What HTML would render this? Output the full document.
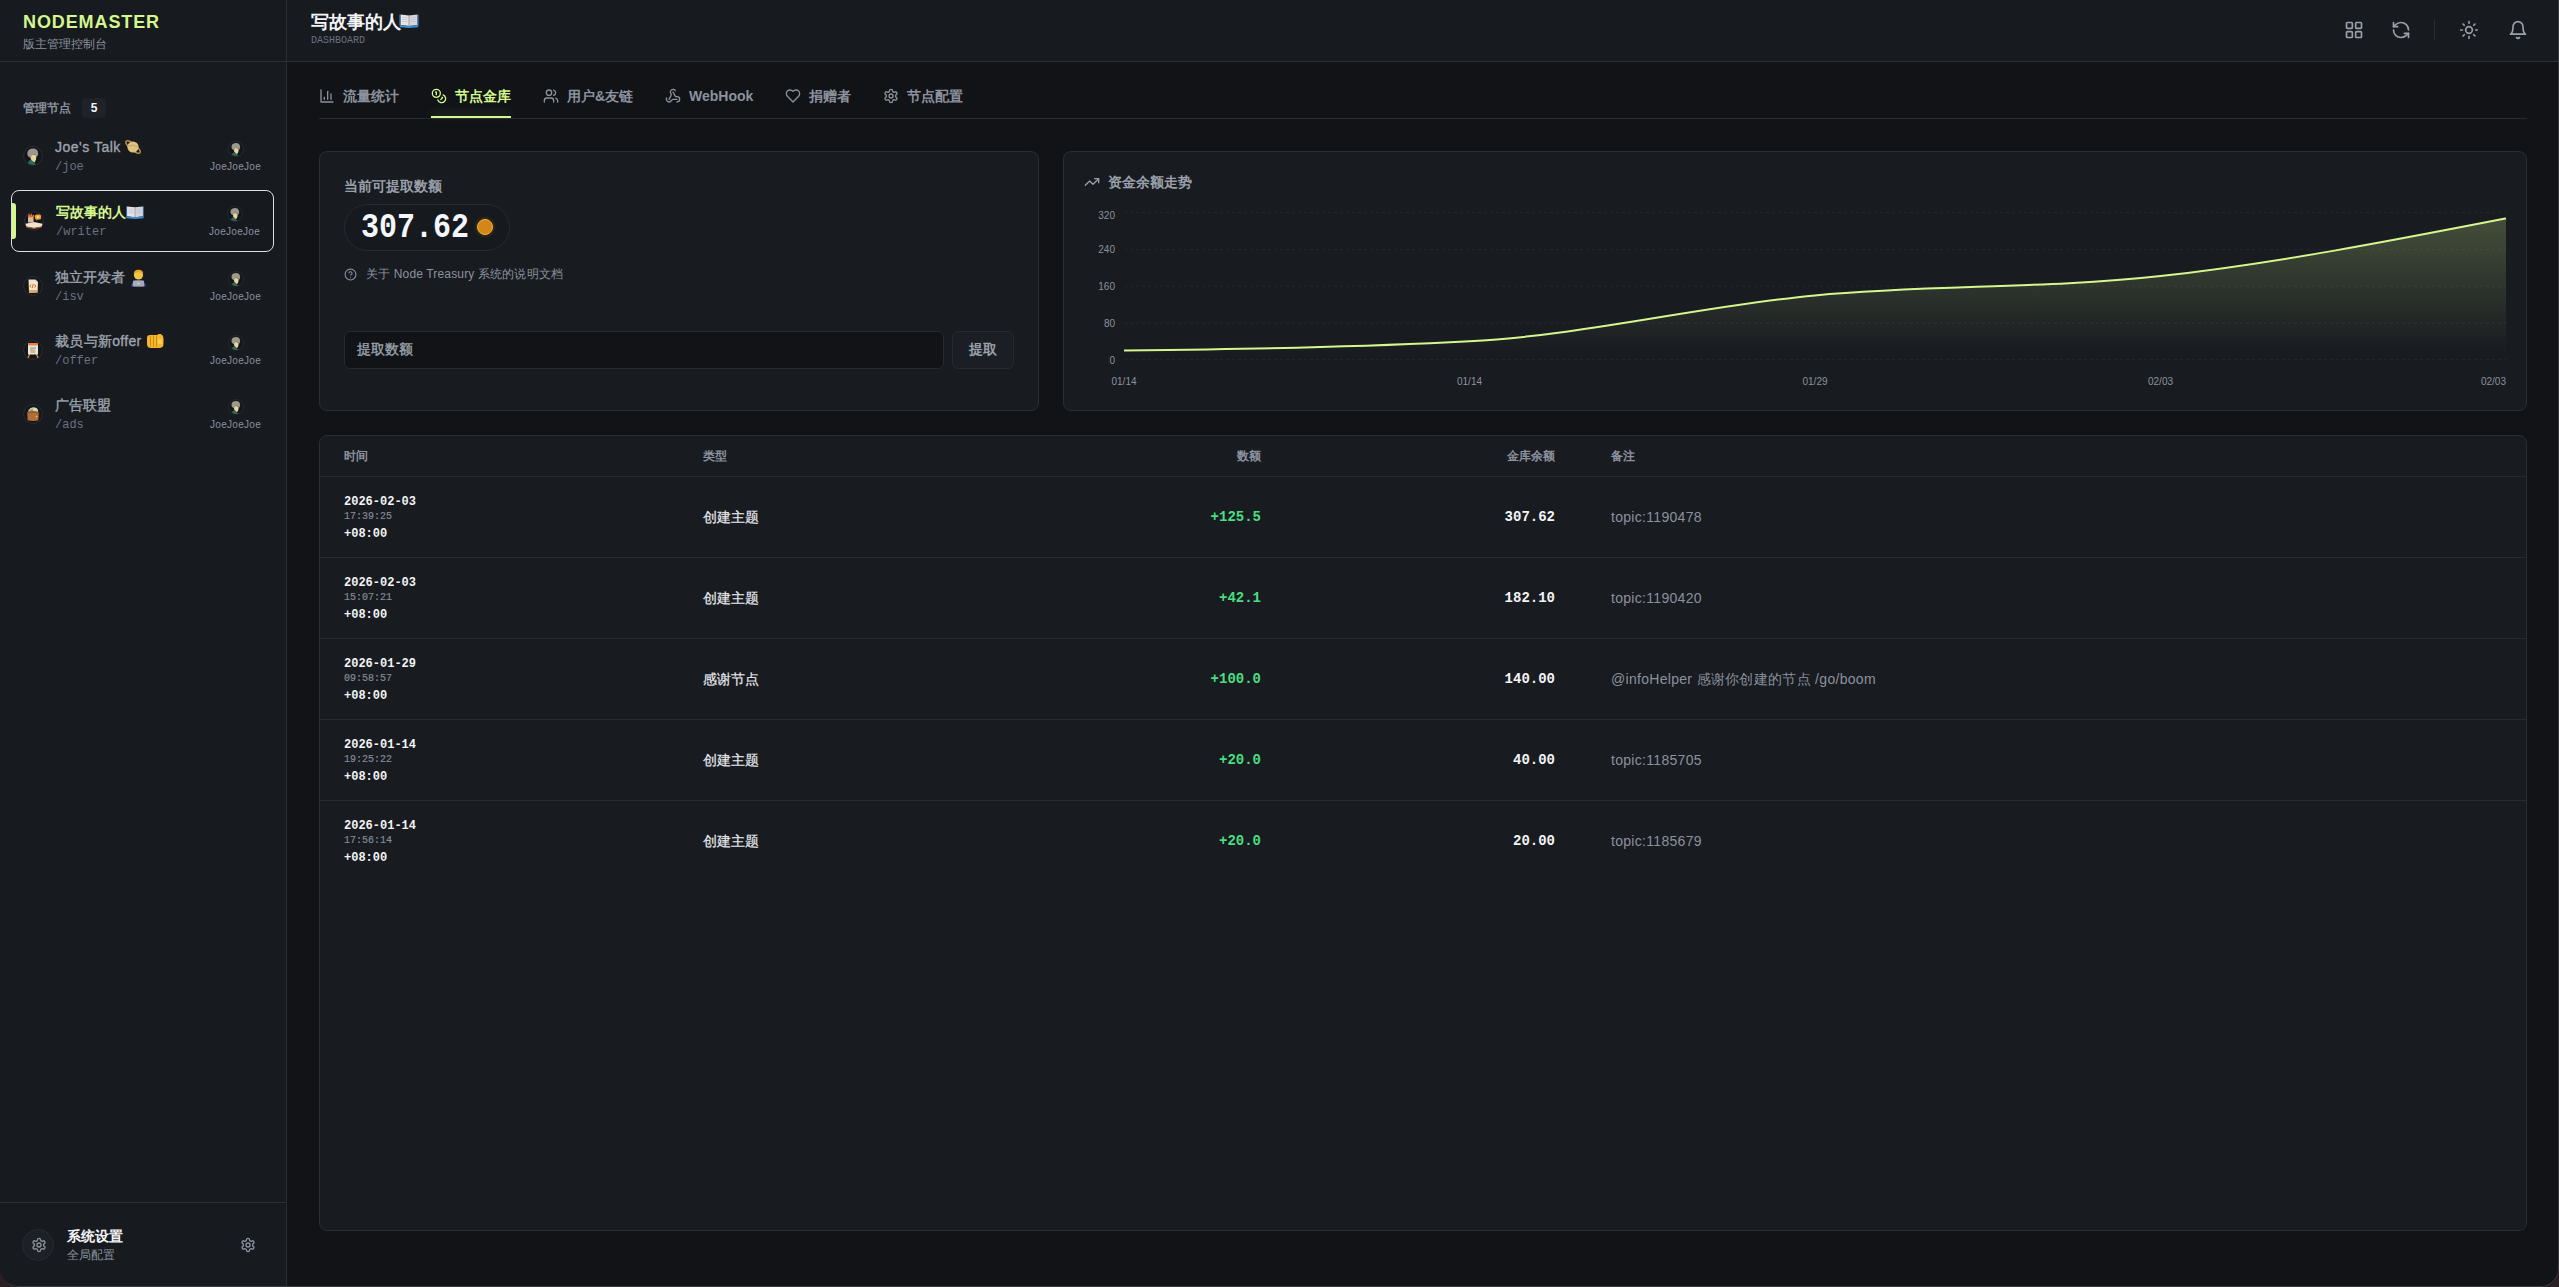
<!DOCTYPE html>
<html><head><meta charset="utf-8">
<style>
*{margin:0;padding:0;box-sizing:border-box}
html,body{width:2559px;height:1287px;overflow:hidden;background:#2b2024}
body{font-family:"Liberation Sans",sans-serif;color:#e5e7eb;position:relative}
.mono{font-family:"Liberation Mono",monospace}
.abs{position:absolute;white-space:nowrap}
#win{position:absolute;left:0;top:0;width:2559px;height:1287px;background:#111317;border-radius:0 0 18px 18px;overflow:hidden}
#frame{position:absolute;left:0;top:-2px;width:2559px;height:1289px;border:1px solid #3a3c40;border-top:none;border-left:none;border-radius:0 0 18px 18px;pointer-events:none}
#side{position:absolute;left:0;top:0;width:287px;height:1287px;background:#171a1f;border-right:1px solid #2a2e35}
#head{position:absolute;left:287px;top:0;right:0;height:62px;background:#171a1f;border-bottom:1px solid #2a2e35}
#sidehead{position:absolute;left:0;top:0;width:286px;height:62px;border-bottom:1px solid #2a2e35}
svg.ic{position:absolute;fill:none;stroke:currentColor;stroke-linecap:round;stroke-linejoin:round}
.card{position:absolute;background:#181b20;border:1px solid #2a2e35;border-radius:8px}
.av{position:absolute;border-radius:50%;background:#2a2d33;border:1px solid #2a2e35;overflow:hidden}
</style></head><body>
<div id="win">
 <div id="side">
  <div id="sidehead">
   <div class="abs" style="left:23px;top:12px;font-size:18px;font-weight:bold;color:#d4f78e;letter-spacing:0.9px">NODEMASTER</div>
   <div class="abs" style="left:23px;top:36px;font-size:12px;color:#8b929d">版主管理控制台</div>
  </div>
  <div class="abs" style="left:23px;top:100px;font-size:12px;font-weight:bold;color:#8b929d">管理节点</div>
  <div class="abs" style="left:82px;top:98px;width:24px;height:20px;border-radius:4px;background:#1f2229;font-size:12px;font-weight:bold;color:#f3f4f6;text-align:center;line-height:20px">5</div>

  <!-- node 1 -->
  <svg style="position:absolute;left:23px;top:146px" width="20" height="20" viewBox="0 0 20 20"><circle cx="10" cy="10" r="9.4" fill="#14161a" stroke="#2b2e34" stroke-width="1"/><path d="M4.6 17.2 Q6 13.5 9.5 13.8 L11 16.5 L13 18.6 Q9 19.6 4.6 17.2Z" fill="#2f6658"/><path d="M7.6 9 Q10.5 8 13.4 9.6 L13 13.5 Q12 16 11.3 16.6 Q9 14.6 7.6 13Z" fill="#e4d69c"/><path d="M4.3 8.5 Q4 3 9.6 2.6 Q15.2 2.6 15.2 8 Q14.6 10 13.8 11 Q13.2 8.5 11 8.4 Q8.5 8.8 7.5 11.5 Q5 11 4.3 8.5Z" fill="#9d988f"/></svg>
  <div class="abs" style="left:55px;top:139px;font-size:14px;color:#9ea4ae;-webkit-text-stroke:0.35px #9ea4ae;letter-spacing:0.5px">Joe's Talk</div>
  <svg style="position:absolute;left:124px;top:138px" width="18" height="18" viewBox="0 0 18 18"><ellipse cx="9" cy="9" rx="9" ry="3" transform="rotate(40 9 9)" fill="none" stroke="#b98a4a" stroke-width="1.4"/><circle cx="9" cy="9" r="5.6" fill="#dcc27e"/><path d="M4 8 Q9 6 14 9" stroke="#c9a866" stroke-width="1" fill="none"/></svg>
  <div class="abs mono" style="left:55px;top:160px;font-size:12px;color:#6b7280">/joe</div>
  <svg style="position:absolute;left:228px;top:141px" width="16" height="16" viewBox="0 0 20 20"><circle cx="10" cy="10" r="9.4" fill="#14161a" stroke="#2b2e34" stroke-width="1"/><path d="M4.6 17.2 Q6 13.5 9.5 13.8 L11 16.5 L13 18.6 Q9 19.6 4.6 17.2Z" fill="#2f6658"/><path d="M7.6 9 Q10.5 8 13.4 9.6 L13 13.5 Q12 16 11.3 16.6 Q9 14.6 7.6 13Z" fill="#e4d69c"/><path d="M4.3 8.5 Q4 3 9.6 2.6 Q15.2 2.6 15.2 8 Q14.6 10 13.8 11 Q13.2 8.5 11 8.4 Q8.5 8.8 7.5 11.5 Q5 11 4.3 8.5Z" fill="#9d988f"/></svg>
  <div class="abs" style="left:210px;top:161px;font-size:10px;color:#8b929d;letter-spacing:0.3px">JoeJoeJoe</div>

  <!-- node 2 selected -->
  <div style="position:absolute;left:11px;top:190px;width:263px;height:62px;border:1.5px solid #dcdee2;border-radius:8px;background:#16191e"></div>
  <div style="position:absolute;left:12px;top:203px;width:4px;height:36px;background:#d4f78e;border-radius:0 3px 3px 0"></div>
  <svg style="position:absolute;left:24px;top:211px" width="20" height="20" viewBox="0 0 20 20"><circle cx="10" cy="10" r="9.4" fill="#14161a" stroke="#2b2e34" stroke-width="1"/><path d="M1.5 12.8 L10 11 L18.5 12.8 L17.8 15.6 L10 17 L2.2 15.6Z" fill="#efe4cc"/><path d="M2.2 15.6 L10 17 L17.8 15.6 L17.6 16.6 L10 18 L2.4 16.6Z" fill="#c0502e"/><path d="M4 11.5 L4 7 Q5 4 6 6.5 Q7 3.5 8 6.5 Q9 4 9.6 7 L9.6 11.5Z" fill="#d9b8a0"/><path d="M4.3 6.5 L5 3.8 L6 6 M6.7 5.6 L7.3 3 L8 5.6 M8.8 6 L9.6 4 L9.8 6.4" stroke="#e8702a" stroke-width="1.2" fill="none"/><rect x="11" y="3.5" width="6" height="5" rx="1.5" fill="#f0a834"/><path d="M12.5 8.2 L12 10 L14 8.3Z" fill="#f0a834"/><path d="M13.3 4.8 L15.3 6 L13.3 7.2Z" fill="#fff2d0"/></svg>
  <div class="abs" style="left:56px;top:204px;font-size:14px;font-weight:bold;color:#d4f78e">写故事的人</div>
  <svg style="position:absolute;left:126px;top:205px" width="18" height="14" viewBox="0 0 19 15"><path d="M1 1.5 L9.5 2.5 V13 L1 12Z" fill="#e4e4ea"/><path d="M18 1.5 L9.5 2.5 V13 L18 12Z" fill="#d6d6de"/><path d="M0.3 12 L9.5 13 L18.7 12 V14.3 L9.5 15 L0.3 14.3Z" fill="#3b8ed0"/><path d="M0.3 1.5 V12.5 M18.7 1.5 V12.5" stroke="#3b8ed0" stroke-width="0.8"/><path d="M9.5 2.5 V13" stroke="#8d8d98" stroke-width="0.8"/><path d="M2.5 4.5 H8 M2.5 6.5 H8 M2.5 8.5 H8 M11 4.5 H16.5 M11 6.5 H16.5 M11 8.5 H16.5" stroke="#b8b8c4" stroke-width="0.6"/></svg>
  <div class="abs mono" style="left:56px;top:225px;font-size:12px;color:#6b7280">/writer</div>
  <svg style="position:absolute;left:227px;top:206px" width="16" height="16" viewBox="0 0 20 20"><circle cx="10" cy="10" r="9.4" fill="#14161a" stroke="#2b2e34" stroke-width="1"/><path d="M4.6 17.2 Q6 13.5 9.5 13.8 L11 16.5 L13 18.6 Q9 19.6 4.6 17.2Z" fill="#2f6658"/><path d="M7.6 9 Q10.5 8 13.4 9.6 L13 13.5 Q12 16 11.3 16.6 Q9 14.6 7.6 13Z" fill="#e4d69c"/><path d="M4.3 8.5 Q4 3 9.6 2.6 Q15.2 2.6 15.2 8 Q14.6 10 13.8 11 Q13.2 8.5 11 8.4 Q8.5 8.8 7.5 11.5 Q5 11 4.3 8.5Z" fill="#9d988f"/></svg>
  <div class="abs" style="left:209px;top:226px;font-size:10px;color:#8b929d;letter-spacing:0.3px">JoeJoeJoe</div>

  <!-- node 3 -->
  <svg style="position:absolute;left:23px;top:276px" width="20" height="20" viewBox="0 0 20 20"><circle cx="10" cy="10" r="9.4" fill="#14161a" stroke="#2b2e34" stroke-width="1"/><path d="M5.5 3.5 L12.5 3.5 L15 6 L14.5 16.5 L6 16.8Z" fill="#efe3cb"/><path d="M8 8.5 L6.8 10 L8 11.5 M11.5 8.5 L12.7 10 L11.5 11.5 M10.3 8 L9.2 12" stroke="#e0662a" stroke-width="1" fill="none"/><path d="M6 14 L14.5 14 L14.5 16.5 L6 16.8Z" fill="#e9a46a"/></svg>
  <div class="abs" style="left:55px;top:269px;font-size:14px;color:#9ea4ae;-webkit-text-stroke:0.35px #9ea4ae">独立开发者</div>
  <svg style="position:absolute;left:130px;top:269px" width="17" height="18" viewBox="0 0 17 18"><circle cx="8.5" cy="6" r="4.6" fill="#f3c443"/><path d="M3.8 5 Q4 0.8 8.5 0.8 Q13 0.8 13.2 5 Q11 3 8.5 3.2 Q6 3 3.8 5Z" fill="#e8a82a"/><path d="M1.5 17.5 Q1.5 11 8.5 11 Q15.5 11 15.5 17.5Z" fill="#3d5fc0"/><rect x="3" y="11.5" width="11" height="6" rx="0.8" fill="#a6abb5"/><circle cx="8.5" cy="14.5" r="0.8" fill="#e8eaee"/></svg>
  <div class="abs mono" style="left:55px;top:290px;font-size:12px;color:#6b7280">/isv</div>
  <svg style="position:absolute;left:228px;top:271px" width="16" height="16" viewBox="0 0 20 20"><circle cx="10" cy="10" r="9.4" fill="#14161a" stroke="#2b2e34" stroke-width="1"/><path d="M4.6 17.2 Q6 13.5 9.5 13.8 L11 16.5 L13 18.6 Q9 19.6 4.6 17.2Z" fill="#2f6658"/><path d="M7.6 9 Q10.5 8 13.4 9.6 L13 13.5 Q12 16 11.3 16.6 Q9 14.6 7.6 13Z" fill="#e4d69c"/><path d="M4.3 8.5 Q4 3 9.6 2.6 Q15.2 2.6 15.2 8 Q14.6 10 13.8 11 Q13.2 8.5 11 8.4 Q8.5 8.8 7.5 11.5 Q5 11 4.3 8.5Z" fill="#9d988f"/></svg>
  <div class="abs" style="left:210px;top:291px;font-size:10px;color:#8b929d;letter-spacing:0.3px">JoeJoeJoe</div>

  <!-- node 4 -->
  <svg style="position:absolute;left:23px;top:340px" width="20" height="20" viewBox="0 0 20 20"><circle cx="10" cy="10" r="9.4" fill="#14161a" stroke="#2b2e34" stroke-width="1"/><path d="M6.5 14 L5 18 M13.5 14 L15 18" stroke="#d88a4a" stroke-width="1.3"/><rect x="5" y="3.6" width="10" height="11" rx="0.8" fill="#efe6d2"/><rect x="5" y="3" width="10" height="2.4" rx="0.8" fill="#e2844a"/><path d="M7 8 H13 M7 10 H12 M7.5 12 H12.5" stroke="#8a8478" stroke-width="0.9"/></svg>
  <div class="abs" style="left:55px;top:333px;font-size:14px;color:#9ea4ae;-webkit-text-stroke:0.35px #9ea4ae;letter-spacing:0.3px">裁员与新offer</div>
  <svg style="position:absolute;left:146px;top:333px" width="18" height="16" viewBox="0 0 18 16"><path d="M1 5 Q1 2 4 2 L11 2 Q12.5 0.5 14.5 1 Q17.5 2 17.5 6 L17.5 11 Q17.5 15 13 15 L5 15 Q1 15 1 11Z" fill="#f4b72e"/><path d="M4.5 3 V14 M7.5 2.5 V14 M10.5 2.5 V14" stroke="#d08c12" stroke-width="1"/><rect x="12" y="6" width="4" height="5" rx="1.5" fill="#f9cf55"/></svg>
  <div class="abs mono" style="left:55px;top:354px;font-size:12px;color:#6b7280">/offer</div>
  <svg style="position:absolute;left:228px;top:335px" width="16" height="16" viewBox="0 0 20 20"><circle cx="10" cy="10" r="9.4" fill="#14161a" stroke="#2b2e34" stroke-width="1"/><path d="M4.6 17.2 Q6 13.5 9.5 13.8 L11 16.5 L13 18.6 Q9 19.6 4.6 17.2Z" fill="#2f6658"/><path d="M7.6 9 Q10.5 8 13.4 9.6 L13 13.5 Q12 16 11.3 16.6 Q9 14.6 7.6 13Z" fill="#e4d69c"/><path d="M4.3 8.5 Q4 3 9.6 2.6 Q15.2 2.6 15.2 8 Q14.6 10 13.8 11 Q13.2 8.5 11 8.4 Q8.5 8.8 7.5 11.5 Q5 11 4.3 8.5Z" fill="#9d988f"/></svg>
  <div class="abs" style="left:210px;top:355px;font-size:10px;color:#8b929d;letter-spacing:0.3px">JoeJoeJoe</div>

  <!-- node 5 -->
  <svg style="position:absolute;left:23px;top:404px" width="20" height="20" viewBox="0 0 20 20"><circle cx="10" cy="10" r="9.4" fill="#14161a" stroke="#2b2e34" stroke-width="1"/><path d="M5.5 6 Q8 2.5 12 3.5 Q15.5 4 15 8 L15 10 L5.5 10Z" fill="#dcd6b8"/><path d="M6 6.5 L9.5 4.5 L11 9 Z" fill="#7aa874"/><path d="M4.2 8 Q10 6.5 15.8 8 L15.4 16.2 Q10 17.6 4.6 16.2Z" fill="#b26e38"/><path d="M4.2 8 Q10 6.5 15.8 8 L15.6 9.5 Q10 8.2 4.4 9.5Z" fill="#8e5328"/><circle cx="13.6" cy="12.6" r="0.9" fill="#e8c070"/></svg>
  <div class="abs" style="left:55px;top:397px;font-size:14px;color:#9ea4ae;-webkit-text-stroke:0.35px #9ea4ae">广告联盟</div>
  <div class="abs mono" style="left:55px;top:418px;font-size:12px;color:#6b7280">/ads</div>
  <svg style="position:absolute;left:228px;top:399px" width="16" height="16" viewBox="0 0 20 20"><circle cx="10" cy="10" r="9.4" fill="#14161a" stroke="#2b2e34" stroke-width="1"/><path d="M4.6 17.2 Q6 13.5 9.5 13.8 L11 16.5 L13 18.6 Q9 19.6 4.6 17.2Z" fill="#2f6658"/><path d="M7.6 9 Q10.5 8 13.4 9.6 L13 13.5 Q12 16 11.3 16.6 Q9 14.6 7.6 13Z" fill="#e4d69c"/><path d="M4.3 8.5 Q4 3 9.6 2.6 Q15.2 2.6 15.2 8 Q14.6 10 13.8 11 Q13.2 8.5 11 8.4 Q8.5 8.8 7.5 11.5 Q5 11 4.3 8.5Z" fill="#9d988f"/></svg>
  <div class="abs" style="left:210px;top:419px;font-size:10px;color:#8b929d;letter-spacing:0.3px">JoeJoeJoe</div>

  <!-- footer -->
  <div style="position:absolute;left:0;top:1202px;width:286px;height:1px;background:#2a2e35"></div>
  <div style="position:absolute;left:22px;top:1229px;width:32px;height:32px;border-radius:50%;background:#1d2027;border:1px solid #262a31"></div>
  <svg class="ic" style="left:31px;top:1237px;color:#8b929d" width="16" height="16" viewBox="0 0 24 24" stroke-width="2"><path d="M12.22 2h-.44a2 2 0 0 0-2 2v.18a2 2 0 0 1-1 1.73l-.43.25a2 2 0 0 1-2 0l-.15-.08a2 2 0 0 0-2.73.73l-.22.38a2 2 0 0 0 .73 2.73l.15.1a2 2 0 0 1 1 1.72v.51a2 2 0 0 1-1 1.74l-.15.09a2 2 0 0 0-.73 2.73l.22.38a2 2 0 0 0 2.73.73l.15-.08a2 2 0 0 1 2 0l.43.25a2 2 0 0 1 1 1.73V20a2 2 0 0 0 2 2h.44a2 2 0 0 0 2-2v-.18a2 2 0 0 1 1-1.73l.43-.25a2 2 0 0 1 2 0l.15.08a2 2 0 0 0 2.73-.73l.22-.39a2 2 0 0 0-.73-2.73l-.15-.08a2 2 0 0 1-1-1.74v-.5a2 2 0 0 1 1-1.74l.15-.09a2 2 0 0 0 .73-2.73l-.22-.38a2 2 0 0 0-2.73-.73l-.15.08a2 2 0 0 1-2 0l-.43-.25a2 2 0 0 1-1-1.73V4a2 2 0 0 0-2-2z"/><circle cx="12" cy="12" r="3"/></svg>
  <div class="abs" style="left:67px;top:1228px;font-size:14px;font-weight:bold;color:#f3f4f6">系统设置</div>
  <div class="abs" style="left:67px;top:1247px;font-size:12px;color:#8b929d">全局配置</div>
  <svg class="ic" style="left:240px;top:1237px;color:#8b929d" width="16" height="16" viewBox="0 0 24 24" stroke-width="2"><path d="M12.22 2h-.44a2 2 0 0 0-2 2v.18a2 2 0 0 1-1 1.73l-.43.25a2 2 0 0 1-2 0l-.15-.08a2 2 0 0 0-2.730.73l-.22.38a2 2 0 0 0 .73 2.73l.15.1a2 2 0 0 1 1 1.72v.51a2 2 0 0 1-1 1.74l-.15.09a2 2 0 0 0-.73 2.730l.22.38a2 2 0 0 0 2.73.73l.15-.08a2 2 0 0 1 2 0l.43.25a2 2 0 0 1 1 1.73V20a2 2 0 0 0 2 2h.44a2 2 0 0 0 2-2v-.18a2 2 0 0 1 1-1.73l.43-.25a2 2 0 0 1 2 0l.15.08a2 2 0 0 0 2.73-.73l.22-.39a2 2 0 0 0-.73-2.73l-.15-.08a2 2 0 0 1-1-1.74v-.5a2 2 0 0 1 1-1.74l.15-.09a2 2 0 0 0 .73-2.73l-.22-.38a2 2 0 0 0-2.73-.73l-.15.08a2 2 0 0 1-2 0l-.43-.25a2 2 0 0 1-1-1.73V4a2 2 0 0 0-2-2z"/><circle cx="12" cy="12" r="3"/></svg>
 </div>
 <div id="head">
  <div class="abs" style="left:24px;top:10px;font-size:17.6px;font-weight:bold;color:#f3f4f6">写故事的人</div>
  <svg style="position:absolute;left:112px;top:13px" width="20" height="15" viewBox="0 0 19 15"><path d="M1 1.5 L9.5 2.5 V13 L1 12Z" fill="#e4e4ea"/><path d="M18 1.5 L9.5 2.5 V13 L18 12Z" fill="#d6d6de"/><path d="M0.3 12 L9.5 13 L18.7 12 V14.3 L9.5 15 L0.3 14.3Z" fill="#3b8ed0"/><path d="M0.3 1.5 V12.5 M18.7 1.5 V12.5" stroke="#3b8ed0" stroke-width="0.8"/><path d="M9.5 2.5 V13" stroke="#8d8d98" stroke-width="0.8"/><path d="M2.5 4.5 H8 M2.5 6.5 H8 M2.5 8.5 H8 M11 4.5 H16.5 M11 6.5 H16.5 M11 8.5 H16.5" stroke="#b8b8c4" stroke-width="0.6"/></svg>
  <div class="abs mono" style="left:24px;top:35px;font-size:10px;color:#6b7280">DASHBOARD</div>
  <svg class="ic" style="left:2057px;top:20px;color:#9aa0aa" width="20" height="20" viewBox="0 0 24 24" stroke-width="2"><rect width="7" height="7" x="3" y="3" rx="1"/><rect width="7" height="7" x="14" y="3" rx="1"/><rect width="7" height="7" x="14" y="14" rx="1"/><rect width="7" height="7" x="3" y="14" rx="1"/></svg>
  <svg class="ic" style="left:2104px;top:20px;color:#9aa0aa" width="20" height="20" viewBox="0 0 24 24" stroke-width="2"><path d="M21 12a9 9 0 0 0-9-9 9.75 9.75 0 0 0-6.74 2.74L3 8"/><path d="M3 3v5h5"/><path d="M3 12a9 9 0 0 0 9 9 9.75 9.75 0 0 0 6.74-2.74L21 16"/><path d="M16 16h5v5"/></svg>
  <div style="position:absolute;left:2147px;top:20px;width:1px;height:20px;background:#2a2e35"></div>
  <svg class="ic" style="left:2172px;top:20px;color:#9aa0aa" width="20" height="20" viewBox="0 0 24 24" stroke-width="2"><circle cx="12" cy="12" r="4"/><path d="M12 2v2"/><path d="M12 20v2"/><path d="m4.93 4.93 1.41 1.41"/><path d="m17.66 17.66 1.41 1.41"/><path d="M2 12h2"/><path d="M20 12h2"/><path d="m6.34 17.66-1.41 1.41"/><path d="m19.07 4.93-1.41 1.41"/></svg>
  <svg class="ic" style="left:2221px;top:20px;color:#9aa0aa" width="20" height="20" viewBox="0 0 24 24" stroke-width="2"><path d="M6 8a6 6 0 0 1 12 0c0 7 3 9 3 9H3s3-2 3-9"/><path d="M10.3 21a1.94 1.94 0 0 0 3.4 0"/></svg>
 </div>

 <!-- tabs -->
 <div style="position:absolute;left:319px;top:118px;width:2208px;height:1px;background:#262a31"></div>
 <svg class="ic" style="left:319px;top:88px;color:#8b929d" width="16" height="16" viewBox="0 0 24 24" stroke-width="2"><path d="M3 3v18h18"/><path d="M18 17V9"/><path d="M13 17V5"/><path d="M8 17v-3"/></svg>
 <div class="abs" style="left:343px;top:88px;font-size:14px;font-weight:bold;color:#8b929d">流量统计</div>
 <svg class="ic" style="left:431px;top:88px;color:#d4f78e" width="16" height="16" viewBox="0 0 24 24" stroke-width="2"><circle cx="8" cy="8" r="6"/><path d="M18.09 10.37A6 6 0 1 1 10.34 18"/><path d="M7 6h1v4"/><path d="m16.71 13.88.7.71-2.82 2.82"/></svg>
 <div class="abs" style="left:455px;top:88px;font-size:14px;font-weight:bold;color:#d4f78e">节点金库</div>
 <div style="position:absolute;left:431px;top:116px;width:80px;height:2px;background:#d4f78e;box-shadow:0 -3px 8px rgba(212,247,142,0.25)"></div>
 <svg class="ic" style="left:543px;top:88px;color:#8b929d" width="16" height="16" viewBox="0 0 24 24" stroke-width="2"><path d="M16 21v-2a4 4 0 0 0-4-4H6a4 4 0 0 0-4 4v2"/><circle cx="9" cy="7" r="4"/><path d="M22 21v-2a4 4 0 0 0-3-3.87"/><path d="M16 3.13a4 4 0 0 1 0 7.75"/></svg>
 <div class="abs" style="left:567px;top:88px;font-size:14px;font-weight:bold;color:#8b929d">用户&amp;友链</div>
 <svg class="ic" style="left:665px;top:88px;color:#8b929d" width="16" height="16" viewBox="0 0 24 24" stroke-width="2"><path d="M18 16.98h-5.99c-1.1 0-1.95.94-2.48 1.9A4 4 0 0 1 2 17c.01-.7.2-1.4.57-2"/><path d="m6 17 3.13-5.78c.53-.97.1-2.18-.5-3.1a4 4 0 1 1 6.89-4.06"/><path d="m12 6 3.13 5.73C15.66 12.7 16.9 13 18 13a4 4 0 0 1 0 8"/></svg>
 <div class="abs" style="left:689px;top:88px;font-size:14px;font-weight:bold;color:#8b929d">WebHook</div>
 <svg class="ic" style="left:785px;top:88px;color:#8b929d" width="16" height="16" viewBox="0 0 24 24" stroke-width="2"><path d="M19 14c1.49-1.46 3-3.21 3-5.5A5.5 5.5 0 0 0 16.5 3c-1.76 0-3 .5-4.5 2-1.5-1.5-2.74-2-4.5-2A5.5 5.5 0 0 0 2 8.5c0 2.3 1.5 4.05 3 5.5l7 7Z"/></svg>
 <div class="abs" style="left:809px;top:88px;font-size:14px;font-weight:bold;color:#8b929d">捐赠者</div>
 <svg class="ic" style="left:883px;top:88px;color:#8b929d" width="16" height="16" viewBox="0 0 24 24" stroke-width="2"><path d="M12.22 2h-.44a2 2 0 0 0-2 2v.18a2 2 0 0 1-1 1.73l-.43.25a2 2 0 0 1-2 0l-.15-.08a2 2 0 0 0-2.73.73l-.22.38a2 2 0 0 0 .73 2.73l.15.1a2 2 0 0 1 1 1.72v.51a2 2 0 0 1-1 1.74l-.15.09a2 2 0 0 0-.73 2.73l.22.38a2 2 0 0 0 2.73.73l.15-.08a2 2 0 0 1 2 0l.43.25a2 2 0 0 1 1 1.73V20a2 2 0 0 0 2 2h.44a2 2 0 0 0 2-2v-.18a2 2 0 0 1 1-1.73l.43-.25a2 2 0 0 1 2 0l.15.08a2 2 0 0 0 2.73-.73l.22-.39a2 2 0 0 0-.73-2.73l-.15-.08a2 2 0 0 1-1-1.74v-.5a2 2 0 0 1 1-1.74l.15-.09a2 2 0 0 0 .73-2.73l-.22-.38a2 2 0 0 0-2.73-.73l-.15.08a2 2 0 0 1-2 0l-.43-.25a2 2 0 0 1-1-1.73V4a2 2 0 0 0-2-2z"/><circle cx="12" cy="12" r="3"/></svg>
 <div class="abs" style="left:907px;top:88px;font-size:14px;font-weight:bold;color:#8b929d">节点配置</div>

 <!-- balance card -->
 <div class="card" style="left:319px;top:151px;width:720px;height:260px"></div>
 <div class="abs" style="left:344px;top:178px;font-size:14px;font-weight:bold;color:#9aa0aa">当前可提取数额</div>
 <div style="position:absolute;left:344px;top:204px;width:166px;height:47px;border-radius:24px;border:1px solid #272b32;background:#16191d"></div>
 <div class="abs mono" style="left:361px;top:209px;font-size:30px;font-weight:bold;color:#f3f6fb;line-height:38px;transform:scaleY(1.14);transform-origin:50% 55%">307.62</div>
 <div style="position:absolute;left:477px;top:219px;width:16px;height:16px;border-radius:50%;background:#d3861a;border:1px solid #f2b632;box-shadow:0 0 4px rgba(240,170,40,0.35)"></div>
 <svg class="ic" style="left:344px;top:268px;color:#8b929d" width="13" height="13" viewBox="0 0 24 24" stroke-width="2"><circle cx="12" cy="12" r="10"/><path d="M9.09 9a3 3 0 0 1 5.83 1c0 2-3 3-3 3"/><path d="M12 17h.01"/></svg>
 <div class="abs" style="left:366px;top:266px;font-size:12px;color:#8b929d;letter-spacing:0.15px">关于 Node Treasury 系统的说明文档</div>
 <div style="position:absolute;left:344px;top:331px;width:600px;height:38px;border-radius:6px;border:1px solid #262a31;background:#111317"></div>
 <div class="abs" style="left:357px;top:341px;font-size:14px;color:#9aa0aa;-webkit-text-stroke:0.4px #9aa0aa">提取数额</div>
 <div style="position:absolute;left:952px;top:331px;width:62px;height:38px;border-radius:6px;border:1px solid #262a31;background:#1b1e24"></div>
 <div class="abs" style="left:969px;top:341px;font-size:14px;font-weight:bold;color:#9aa0aa">提取</div>

 <!-- chart card -->
 <div class="card" style="left:1063px;top:151px;width:1464px;height:260px"></div>
 <svg class="ic" style="left:1084px;top:174px;color:#9aa0aa" width="16" height="16" viewBox="0 0 24 24" stroke-width="2"><polyline points="22 7 13.5 15.5 8.5 10.5 2 17"/><polyline points="16 7 22 7 22 13"/></svg>
 <div class="abs" style="left:1108px;top:174px;font-size:14px;font-weight:bold;color:#9aa0aa">资金余额走势</div>
 <svg style="position:absolute;left:1063px;top:151px" width="1464" height="260" viewBox="1063 151 1464 260">
  <defs><linearGradient id="g" x1="0" y1="0" x2="0" y2="1"><stop offset="5%" stop-color="#d4f78e" stop-opacity="0.22"/><stop offset="95%" stop-color="#d4f78e" stop-opacity="0"/></linearGradient></defs>
  <g stroke="#24282e" stroke-width="1" stroke-dasharray="3 3">
   <line x1="1124" y1="212.7" x2="2506" y2="212.7"/><line x1="1124" y1="249.4" x2="2506" y2="249.4"/><line x1="1124" y1="286.2" x2="2506" y2="286.2"/><line x1="1124" y1="323" x2="2506" y2="323"/><line x1="1124" y1="359.7" x2="2506" y2="359.7"/>
  </g>
  <path d="M1124.0,350.51C1239.2,348.98,1354.3,347.45,1469.5,341.32C1584.7,335.20,1699.8,306.27,1815.0,295.39C1930.2,284.51,2045.3,288.88,2160.5,276.05C2275.7,263.21,2390.8,240.80,2506.0,218.39L2506,359.7L1124,359.7Z" fill="url(#g)"/>
  <path d="M1124.0,350.51C1239.2,348.98,1354.3,347.45,1469.5,341.32C1584.7,335.20,1699.8,306.27,1815.0,295.39C1930.2,284.51,2045.3,288.88,2160.5,276.05C2275.7,263.21,2390.8,240.80,2506.0,218.39" fill="none" stroke="#d4f78e" stroke-width="2"/>
  <g font-family="Liberation Sans" font-size="10" fill="#8b929d" text-anchor="end">
   <text x="1115" y="219">320</text><text x="1115" y="253">240</text><text x="1115" y="290">160</text><text x="1115" y="327">80</text><text x="1115" y="364">0</text>
  </g>
  <g font-family="Liberation Sans" font-size="10" fill="#8b929d" text-anchor="middle">
   <text x="1124" y="385">01/14</text><text x="1469.5" y="385">01/14</text><text x="1815" y="385">01/29</text><text x="2160.5" y="385">02/03</text><text x="2506" y="385" text-anchor="end">02/03</text>
  </g>
 </svg>

 <!-- table -->
 <div class="card" style="left:319px;top:435px;width:2208px;height:796px"></div>
 <div id="tbl">
<div class="abs" style="left:344px;top:448px;font-size:12px;font-weight:bold;color:#8b929d">时间</div>
<div class="abs" style="left:703px;top:448px;font-size:12px;font-weight:bold;color:#8b929d">类型</div>
<div class="abs" style="right:1298px;top:448px;font-size:12px;font-weight:bold;color:#8b929d">数额</div>
<div class="abs" style="right:1004px;top:448px;font-size:12px;font-weight:bold;color:#8b929d">金库余额</div>
<div class="abs" style="left:1611px;top:448px;font-size:12px;font-weight:bold;color:#8b929d">备注</div>
<div style="position:absolute;left:320px;top:476px;width:2206px;height:1px;background:#262a31"></div>
<div style="position:absolute;left:320px;top:557px;width:2206px;height:1px;background:#262a31"></div>
<div class="abs mono" style="left:344px;top:494px;font-size:12px;font-weight:bold;color:#f3f4f6;line-height:16px">2026-02-03</div>
<div class="abs mono" style="left:344px;top:509px;font-size:10px;color:#838a94;line-height:16px;-webkit-text-stroke:0.2px #838a94">17:39:25</div>
<div class="abs mono" style="left:344px;top:526px;font-size:12px;font-weight:bold;color:#f3f4f6;line-height:16px">+08:00</div>
<div class="abs" style="left:703px;top:508px;font-size:14px;color:#e8eaee;line-height:18px;-webkit-text-stroke:0.2px #e8eaee">创建主题</div>
<div class="abs mono" style="right:1298px;top:508px;font-size:14px;font-weight:bold;color:#4ade80;line-height:18px">+125.5</div>
<div class="abs mono" style="right:1004px;top:508px;font-size:14px;font-weight:bold;color:#f3f4f6;line-height:18px">307.62</div>
<div class="abs" style="left:1611px;top:508px;font-size:14px;color:#8b929d;line-height:18px;letter-spacing:0.3px">topic:1190478</div>
<div style="position:absolute;left:320px;top:638px;width:2206px;height:1px;background:#262a31"></div>
<div class="abs mono" style="left:344px;top:575px;font-size:12px;font-weight:bold;color:#f3f4f6;line-height:16px">2026-02-03</div>
<div class="abs mono" style="left:344px;top:590px;font-size:10px;color:#838a94;line-height:16px;-webkit-text-stroke:0.2px #838a94">15:07:21</div>
<div class="abs mono" style="left:344px;top:607px;font-size:12px;font-weight:bold;color:#f3f4f6;line-height:16px">+08:00</div>
<div class="abs" style="left:703px;top:589px;font-size:14px;color:#e8eaee;line-height:18px;-webkit-text-stroke:0.2px #e8eaee">创建主题</div>
<div class="abs mono" style="right:1298px;top:589px;font-size:14px;font-weight:bold;color:#4ade80;line-height:18px">+42.1</div>
<div class="abs mono" style="right:1004px;top:589px;font-size:14px;font-weight:bold;color:#f3f4f6;line-height:18px">182.10</div>
<div class="abs" style="left:1611px;top:589px;font-size:14px;color:#8b929d;line-height:18px;letter-spacing:0.3px">topic:1190420</div>
<div style="position:absolute;left:320px;top:719px;width:2206px;height:1px;background:#262a31"></div>
<div class="abs mono" style="left:344px;top:656px;font-size:12px;font-weight:bold;color:#f3f4f6;line-height:16px">2026-01-29</div>
<div class="abs mono" style="left:344px;top:671px;font-size:10px;color:#838a94;line-height:16px;-webkit-text-stroke:0.2px #838a94">09:58:57</div>
<div class="abs mono" style="left:344px;top:688px;font-size:12px;font-weight:bold;color:#f3f4f6;line-height:16px">+08:00</div>
<div class="abs" style="left:703px;top:670px;font-size:14px;color:#e8eaee;line-height:18px;-webkit-text-stroke:0.2px #e8eaee">感谢节点</div>
<div class="abs mono" style="right:1298px;top:670px;font-size:14px;font-weight:bold;color:#4ade80;line-height:18px">+100.0</div>
<div class="abs mono" style="right:1004px;top:670px;font-size:14px;font-weight:bold;color:#f3f4f6;line-height:18px">140.00</div>
<div class="abs" style="left:1611px;top:670px;font-size:14px;color:#8b929d;line-height:18px;letter-spacing:0.3px">@infoHelper 感谢你创建的节点 /go/boom</div>
<div style="position:absolute;left:320px;top:800px;width:2206px;height:1px;background:#262a31"></div>
<div class="abs mono" style="left:344px;top:737px;font-size:12px;font-weight:bold;color:#f3f4f6;line-height:16px">2026-01-14</div>
<div class="abs mono" style="left:344px;top:752px;font-size:10px;color:#838a94;line-height:16px;-webkit-text-stroke:0.2px #838a94">19:25:22</div>
<div class="abs mono" style="left:344px;top:769px;font-size:12px;font-weight:bold;color:#f3f4f6;line-height:16px">+08:00</div>
<div class="abs" style="left:703px;top:751px;font-size:14px;color:#e8eaee;line-height:18px;-webkit-text-stroke:0.2px #e8eaee">创建主题</div>
<div class="abs mono" style="right:1298px;top:751px;font-size:14px;font-weight:bold;color:#4ade80;line-height:18px">+20.0</div>
<div class="abs mono" style="right:1004px;top:751px;font-size:14px;font-weight:bold;color:#f3f4f6;line-height:18px">40.00</div>
<div class="abs" style="left:1611px;top:751px;font-size:14px;color:#8b929d;line-height:18px;letter-spacing:0.3px">topic:1185705</div>
<div class="abs mono" style="left:344px;top:818px;font-size:12px;font-weight:bold;color:#f3f4f6;line-height:16px">2026-01-14</div>
<div class="abs mono" style="left:344px;top:833px;font-size:10px;color:#838a94;line-height:16px;-webkit-text-stroke:0.2px #838a94">17:56:14</div>
<div class="abs mono" style="left:344px;top:850px;font-size:12px;font-weight:bold;color:#f3f4f6;line-height:16px">+08:00</div>
<div class="abs" style="left:703px;top:832px;font-size:14px;color:#e8eaee;line-height:18px;-webkit-text-stroke:0.2px #e8eaee">创建主题</div>
<div class="abs mono" style="right:1298px;top:832px;font-size:14px;font-weight:bold;color:#4ade80;line-height:18px">+20.0</div>
<div class="abs mono" style="right:1004px;top:832px;font-size:14px;font-weight:bold;color:#f3f4f6;line-height:18px">20.00</div>
<div class="abs" style="left:1611px;top:832px;font-size:14px;color:#8b929d;line-height:18px;letter-spacing:0.3px">topic:1185679</div>
</div>
<div id="frame"></div>
</div>
</body></html>
